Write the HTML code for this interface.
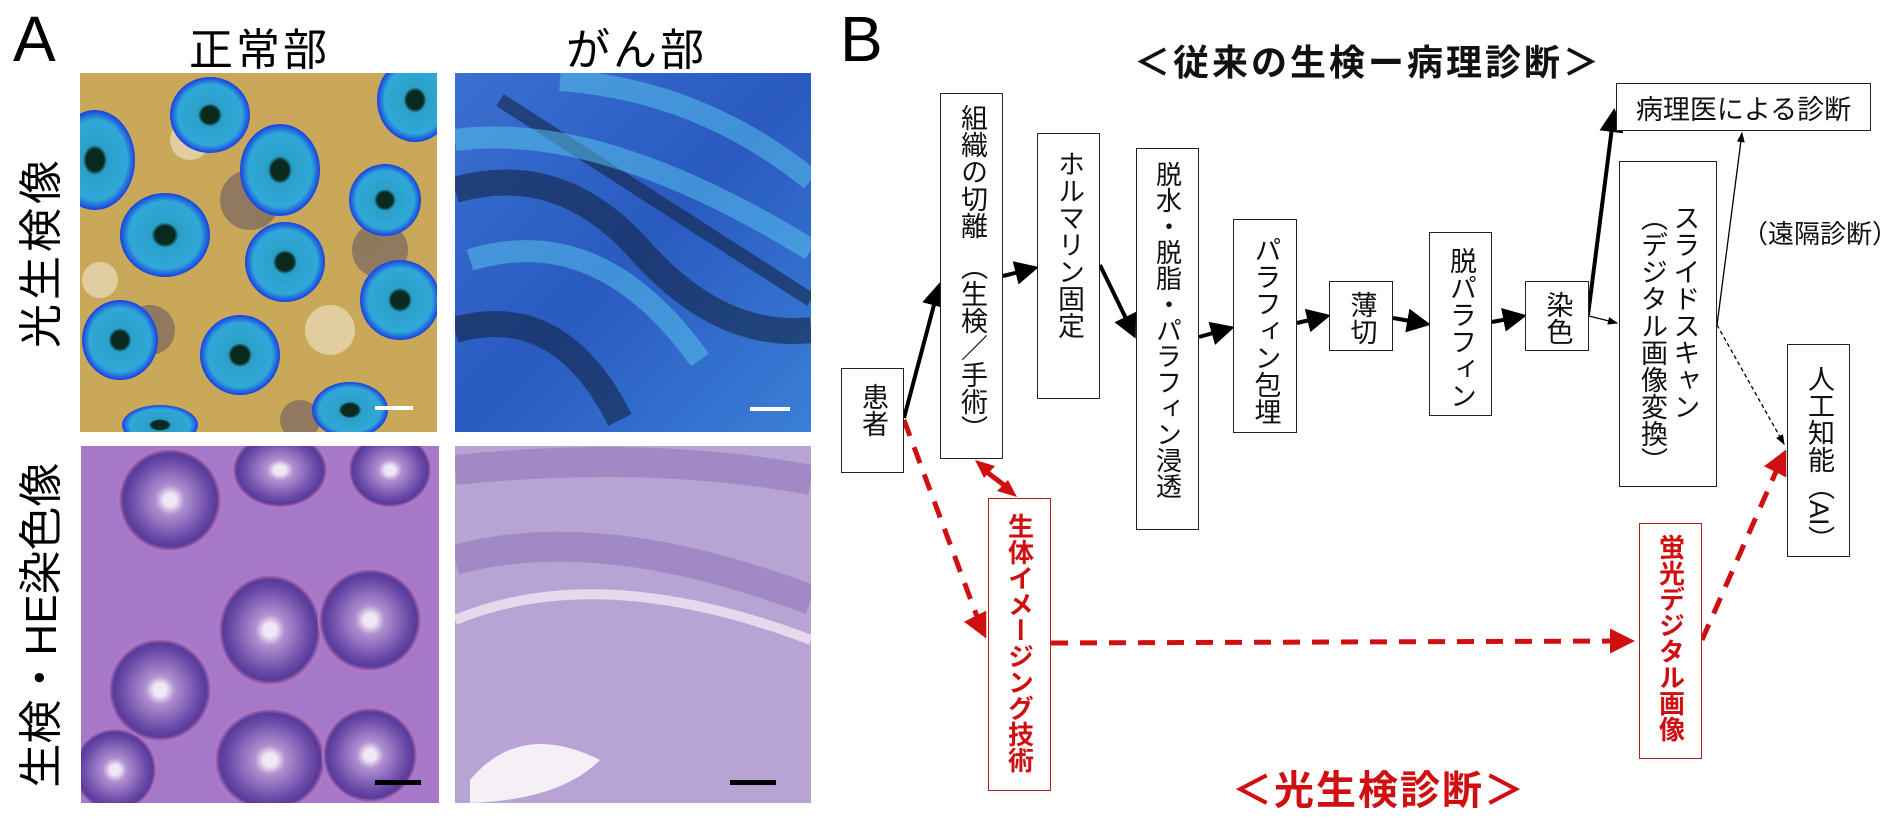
<!DOCTYPE html>
<html><head><meta charset="utf-8">
<style>
body{margin:0;width:1885px;height:819px;background:#fff;position:relative;overflow:hidden;font-family:"Liberation Sans","Noto Sans CJK JP",sans-serif;}
.a{position:absolute;white-space:nowrap;}
.box{position:absolute;border:1.5px solid #222;box-sizing:border-box;background:#fff;display:flex;justify-content:center;align-items:flex-start;}
.v{writing-mode:vertical-rl;text-orientation:upright;font-size:27px;color:#111;line-height:1;padding-top:14px;white-space:nowrap;}
.rb{position:absolute;border:1.5px solid #b02020;box-sizing:border-box;background:#fff;display:flex;justify-content:center;align-items:flex-start;}
.rv{writing-mode:vertical-rl;text-orientation:upright;font-size:27px;color:#d01010;font-weight:bold;line-height:1;padding-top:12px;white-space:nowrap;}
.rot{position:absolute;white-space:nowrap;font-size:44px;transform:translate(-50%,-50%) rotate(-90deg);line-height:1;}
</style></head><body>
<div class="a" style="left:13px;top:2px;font-size:64px;">A</div>
<div class="a" style="left:189px;top:14px;font-size:44px;letter-spacing:3px;">正常部</div>
<div class="a" style="left:566px;top:14px;font-size:44px;letter-spacing:3px;">がん部</div>
<div class="rot" style="left:42px;top:252px;letter-spacing:4px;">光生検像</div>
<div class="rot" style="left:42px;top:625px;">生検・HE染色像</div>

<svg class="a" style="left:0;top:0" width="1885" height="819">
<defs>
<radialGradient id="crypt" cx="50%" cy="50%" r="50%"><stop offset="0.22" stop-color="#0a2a20"/><stop offset="0.3" stop-color="#2aa0c8"/><stop offset="0.8" stop-color="#30a8d8"/><stop offset="1" stop-color="#1a40e0"/></radialGradient>
<radialGradient id="he" cx="50%" cy="50%" r="50%"><stop offset="0.12" stop-color="#f0e8f4"/><stop offset="0.28" stop-color="#b090d0"/><stop offset="0.75" stop-color="#6a4aa8"/><stop offset="0.9" stop-color="#5a3a98"/><stop offset="1" stop-color="#c080c8"/></radialGradient>
<linearGradient id="tr" x1="0" y1="0" x2="1" y2="1"><stop offset="0" stop-color="#3a70d0"/><stop offset="0.5" stop-color="#2a5ac0"/><stop offset="1" stop-color="#3a80d8"/></linearGradient>
<clipPath id="c1"><rect x="80" y="73" width="357" height="359"/></clipPath>
<clipPath id="c2"><rect x="455" y="73" width="356" height="359"/></clipPath>
<clipPath id="c3"><rect x="81" y="446" width="358" height="357"/></clipPath>
<clipPath id="c4"><rect x="455" y="446" width="356" height="357"/></clipPath>
</defs>
<g clip-path="url(#c1)">
<rect x="80" y="73" width="357" height="359" fill="#c9a85a"/>
<g fill="#6a5a60" opacity="0.6"><circle cx="250" cy="200" r="30"/><circle cx="150" cy="330" r="25"/><circle cx="380" cy="250" r="28"/><circle cx="300" cy="420" r="20"/></g>
<g fill="#f0e8d0" opacity="0.6"><circle cx="190" cy="140" r="20"/><circle cx="330" cy="330" r="25"/><circle cx="100" cy="280" r="18"/></g>
<g fill="url(#crypt)">
<ellipse cx="210" cy="115" rx="40" ry="38"/><ellipse cx="95" cy="160" rx="40" ry="50"/><ellipse cx="280" cy="170" rx="40" ry="46"/>
<ellipse cx="415" cy="100" rx="38" ry="42"/><ellipse cx="385" cy="200" rx="36" ry="36"/><ellipse cx="165" cy="235" rx="45" ry="42"/>
<ellipse cx="285" cy="262" rx="40" ry="40"/><ellipse cx="400" cy="300" rx="40" ry="40"/><ellipse cx="120" cy="340" rx="38" ry="40"/>
<ellipse cx="240" cy="355" rx="40" ry="40"/><ellipse cx="350" cy="410" rx="38" ry="28"/><ellipse cx="160" cy="425" rx="38" ry="20"/>
</g>
<rect x="375" y="406" width="38" height="4" fill="#fff"/>
</g>
<g clip-path="url(#c2)">
<rect x="455" y="73" width="356" height="359" fill="url(#tr)"/>
<g stroke="#10203a" stroke-width="26" opacity="0.55" fill="none">
<path d="M455 190 Q560 160 640 250 T811 330"/><path d="M500 100 L811 300" stroke-width="14"/><path d="M455 330 Q560 300 620 420"/>
</g>
<g stroke="#5ac8f0" stroke-width="22" opacity="0.5" fill="none"><path d="M455 140 Q600 120 811 250"/><path d="M470 260 Q600 220 700 360"/><path d="M560 80 Q700 90 811 180"/></g>
<rect x="750" y="407" width="40" height="4" fill="#fff"/>
</g>
<g clip-path="url(#c3)">
<rect x="81" y="446" width="358" height="357" fill="#a878c8"/>
<g fill="url(#he)">
<ellipse cx="170" cy="500" rx="52" ry="52"/><ellipse cx="280" cy="470" rx="48" ry="38"/><ellipse cx="390" cy="470" rx="42" ry="38"/>
<ellipse cx="270" cy="630" rx="52" ry="56"/><ellipse cx="370" cy="620" rx="52" ry="52"/><ellipse cx="160" cy="690" rx="52" ry="52"/>
<ellipse cx="270" cy="760" rx="56" ry="52"/><ellipse cx="370" cy="755" rx="48" ry="48"/><ellipse cx="115" cy="770" rx="42" ry="42"/>
</g>
<rect x="375" y="780" width="46" height="5" fill="#000"/>
</g>
<g clip-path="url(#c4)">
<rect x="455" y="446" width="356" height="357" fill="#b8a4d4"/>
<g opacity="0.5" fill="none" stroke="#8a70b8" stroke-width="30"><path d="M455 560 Q600 520 811 600"/><path d="M455 470 Q650 450 811 480"/></g>
<path d="M455 620 Q600 560 811 640" stroke="#e8d8ec" stroke-width="10" fill="none"/>
<path d="M470 780 Q520 720 600 760 Q560 800 470 803 Z" fill="#f4f0f6"/>
<rect x="730" y="780" width="46" height="5" fill="#000"/>
</g>

<defs>
<marker id="ah" markerWidth="6" markerHeight="6" refX="5" refY="3" orient="auto" markerUnits="strokeWidth"><path d="M0,0 L6,3 L0,6 Z" fill="#000"/></marker>
<marker id="ahs" markerWidth="8" markerHeight="8" refX="7" refY="4" orient="auto" markerUnits="strokeWidth"><path d="M0,1 L8,4 L0,7 Z" fill="#000"/></marker>
<marker id="rh" markerWidth="5" markerHeight="5" refX="4" refY="2.5" orient="auto" markerUnits="strokeWidth"><path d="M0,0 L5,2.5 L0,5 Z" fill="#d01010"/></marker>
</defs>
<g stroke="#000" stroke-width="4" marker-end="url(#ah)">
<line x1="904" y1="418" x2="939" y2="286"/>
<line x1="1003" y1="276" x2="1035" y2="268"/>
<line x1="1100" y1="265" x2="1134" y2="335"/>
<line x1="1199" y1="337" x2="1231" y2="328"/>
<line x1="1297" y1="323" x2="1327" y2="316"/>
<line x1="1393" y1="318" x2="1427" y2="324"/>
<line x1="1492" y1="322" x2="1523" y2="316"/>
<line x1="1588" y1="315" x2="1614" y2="112"/>
</g>
<g stroke="#000" stroke-width="1.3" marker-end="url(#ahs)">
<line x1="1589" y1="316" x2="1617" y2="323"/>
<line x1="1717" y1="325" x2="1742" y2="133"/>
</g>
<line x1="1717" y1="325" x2="1784" y2="444" stroke="#000" stroke-width="1.3" stroke-dasharray="4,3" marker-end="url(#ahs)"/>
<g stroke="#d01010" stroke-width="5" fill="none" stroke-dasharray="17,12">
<line x1="904" y1="420" x2="982" y2="630"/>
<line x1="1051" y1="643" x2="1625" y2="641"/>
<line x1="1702" y1="640" x2="1782" y2="458"/>
</g>
<g stroke="#d01010" stroke-width="5"><line x1="982" y1="630" x2="984" y2="634" marker-end="url(#rh)"/><line x1="1625" y1="641" x2="1630" y2="641" marker-end="url(#rh)"/><line x1="1782" y1="458" x2="1784" y2="454" marker-end="url(#rh)"/>
<line x1="984" y1="470" x2="1008" y2="488"/></g>
<polygon points="975,460 995,466 984,478" fill="#d01010"/>
<polygon points="1017,497 997,491 1008,480" fill="#d01010"/>
</svg>

<div class="a" style="left:840px;top:2px;font-size:64px;">B</div>
<div class="a" style="left:1134px;top:34px;font-size:36px;font-weight:bold;letter-spacing:3px;color:#111;">＜従来の生検ー病理診断＞</div>
<div class="a" style="left:1232px;top:758px;font-size:40px;font-weight:bold;letter-spacing:2px;color:#d01010;">＜光生検診断＞</div>

<div class="box" style="left:841px;top:368px;width:63px;height:105px;"><div class="v">患者</div></div>
<div class="box" style="left:940px;top:93px;width:63px;height:366px;"><div class="v" style="padding-top:10px">組織の切離<span style="display:inline-block;margin-top:14px">（生検／手術）</span></div></div>
<div class="box" style="left:1037px;top:133px;width:63px;height:266px;"><div class="v" style="padding-top:16px">ホルマリン固定</div></div>
<div class="box" style="left:1136px;top:148px;width:63px;height:382px;"><div class="v" style="padding-top:12px;font-size:26px">脱水・脱脂・パラフィン浸透</div></div>
<div class="box" style="left:1233px;top:219px;width:64px;height:214px;"><div class="v" style="padding-top:16px">パラフィン包埋</div></div>
<div class="box" style="left:1329px;top:281px;width:64px;height:70px;"><div class="v" style="padding-top:9px">薄切</div></div>
<div class="box" style="left:1429px;top:232px;width:63px;height:184px;"><div class="v" style="padding-top:14px">脱パラフィン</div></div>
<div class="box" style="left:1525px;top:281px;width:64px;height:70px;"><div class="v" style="padding-top:9px">染色</div></div>
<div class="box" style="left:1619px;top:161px;width:98px;height:326px;"><div class="v" style="padding-top:42px;line-height:1.2">スライドスキャン<br>（デジタル画像変換）</div></div>
<div class="box" style="left:1616px;top:83px;width:255px;height:48px;align-items:center;"><div style="font-size:27px;color:#111;white-space:nowrap;">病理医による診断</div></div>
<div class="a" style="left:1742px;top:214px;font-size:26px;color:#111;">（遠隔診断）</div>
<div class="box" style="left:1787px;top:344px;width:63px;height:213px;"><div class="v" style="padding-top:20px">人工知能（<span style="text-orientation:sideways">AI</span>）</div></div>
<div class="rb" style="left:988px;top:498px;width:63px;height:293px;"><div class="rv" style="padding-top:14px;font-size:26px">生体イメージング技術</div></div>
<div class="rb" style="left:1639px;top:523px;width:63px;height:236px;"><div class="rv" style="padding-top:10px;font-size:26px">蛍光デジタル画像</div></div>
</body></html>
